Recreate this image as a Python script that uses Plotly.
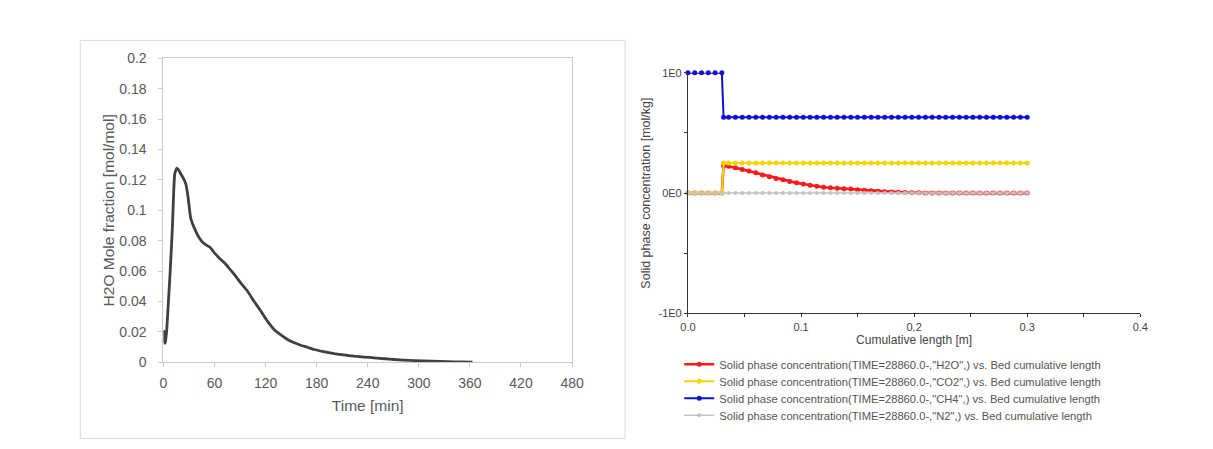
import plotly.graph_objects as go

# ---------------- Left chart data: H2O mole fraction vs time ----------------
time_min = [0.0, 0.8, 1.5, 2.2, 3.0, 4.0, 5.5, 7.8, 10.6, 11.8, 13.3, 15.7, 18.0, 20.4,
            23.5, 26.3, 29.0, 32.0, 36.0, 42.0, 47.0, 51.7, 55.0, 59.6, 65.0, 71.3, 77.0,
            83.0, 90.0, 98.7, 106.0, 114.4, 122.0, 130.0, 138.0, 145.8, 153.0, 161.4,
            170.0, 177.0, 188.0, 200.6, 212.0, 224.0, 236.0, 247.6, 260.0, 271.0, 283.0,
            294.7, 315.0, 333.9, 350.0, 363.0]
h2o_frac = [0.013, 0.0205, 0.0125, 0.013, 0.016, 0.022, 0.036, 0.058, 0.089, 0.108, 0.124,
            0.1278, 0.1265, 0.124, 0.121, 0.1174, 0.1086, 0.095, 0.0888, 0.082, 0.0785,
            0.0767, 0.0755, 0.0722, 0.0690, 0.0656, 0.0620, 0.058, 0.0528, 0.0469, 0.0405,
            0.0337, 0.0272, 0.0216, 0.0180, 0.0150, 0.0130, 0.0112, 0.0097, 0.0084, 0.0070,
            0.0057, 0.0048, 0.0040, 0.0034, 0.0029, 0.0023, 0.0018, 0.0014, 0.0011, 0.0007,
            0.0004, 0.0002, 0.0]
left_xticks = [0, 60, 120, 180, 240, 300, 360, 420, 480]
left_yticks = [0, 0.02, 0.04, 0.06, 0.08, 0.1, 0.12, 0.14, 0.16, 0.18, 0.2]
left_yticklabels = ["0", "0.02", "0.04", "0.06", "0.08", "0.1", "0.12", "0.14", "0.16", "0.18", "0.2"]

# ---------------- Right chart data: solid phase concentration vs bed length ----------------
bed_x = [0.000, 0.006, 0.012, 0.018, 0.024, 0.030, 0.0315, 0.036, 0.042, 0.048, 0.054,
         0.060, 0.066, 0.072, 0.078, 0.084, 0.090, 0.096, 0.102, 0.108, 0.114, 0.120,
         0.126, 0.132, 0.138, 0.144, 0.150, 0.156, 0.162, 0.168, 0.174, 0.180, 0.186,
         0.192, 0.198, 0.204, 0.210, 0.216, 0.222, 0.228, 0.234, 0.240, 0.246, 0.252,
         0.258, 0.264, 0.270, 0.276, 0.282, 0.288, 0.294, 0.300]
h2o_conc = [0.0, 0.0, 0.0, 0.0, 0.0, 0.0, 0.228, 0.222, 0.210, 0.197, 0.183,
            0.168, 0.150, 0.135, 0.122, 0.110, 0.097, 0.085, 0.075, 0.065, 0.056, 0.049,
            0.044, 0.040, 0.036, 0.033, 0.028, 0.023, 0.019, 0.016, 0.012, 0.009, 0.006,
            0.004, 0.003, 0.002, 0.001, 0.0, 0.0, 0.0, 0.0, 0.0, 0.0, 0.0,
            0.0, 0.0, 0.0, 0.0, 0.0, 0.0, 0.0, 0.0]
co2_conc = [0.0] * 6 + [0.25] * 46
ch4_conc = [1.0] * 6 + [0.63] * 46
n2_conc = [0.0] * 52
right_xticks = [0.0, 0.05, 0.1, 0.15, 0.2, 0.25, 0.3, 0.35, 0.4]
right_xticklabels = ["0.0", "", "0.1", "", "0.2", "", "0.3", "", "0.4"]
right_yticks = [-1, -0.5, 0, 0.5, 1]
right_yticklabels = ["-1E0", "", "0E0", "", "1E0"]
series_names = [
    'Solid phase concentration(TIME=28860.0-,"H2O",) vs. Bed cumulative length',
    'Solid phase concentration(TIME=28860.0-,"CO2",) vs. Bed cumulative length',
    'Solid phase concentration(TIME=28860.0-,"CH4",) vs. Bed cumulative length',
    'Solid phase concentration(TIME=28860.0-,"N2",) vs. Bed cumulative length',
]

# Placement: positions are given in picture pixels and converted to figure fractions,
# accounting for the 8px body margin and the observed capture scale.
BODY = 8
SX, SY = 0.982, 0.962
W, H = 1219, 451


def px_x(p):
    return (p / SX - BODY) / W


def px_y(p):
    return 1 - (p / SY - BODY) / H


fig = go.Figure()

fig.add_trace(go.Scatter(x=time_min, y=h2o_frac, mode="lines",
                         line=dict(color="#404040", width=2.8, shape="spline", smoothing=0.4),
                         xaxis="x", yaxis="y", showlegend=False))

colors = ["#ff1a1a", "#f2d600", "#1010d0", "#c4c4c4"]
lwidth = [2.6, 2.0, 2.0, 1.5]
msize = [5, 5, 5, 4]
legend_ids = ["legend", "legend2", "legend3", "legend4"]
legend_rows = [363, 380, 397, 414]
for name, vals, col, lw, ms, lid in zip(series_names, [h2o_conc, co2_conc, ch4_conc, n2_conc],
                                        colors, lwidth, msize, legend_ids):
    fig.add_trace(go.Scatter(x=bed_x, y=vals, mode="lines+markers", name=name,
                             line=dict(color=col, width=lw),
                             marker=dict(color=col, size=ms),
                             cliponaxis=False, legend=lid,
                             xaxis="x2", yaxis="y2"))

font_l = "Liberation Sans, Arial, sans-serif"
legend_font = dict(family=font_l, size=11.2, color="#555555")
legends = {}
for lid, row in zip(legend_ids, legend_rows):
    legends[lid] = dict(x=px_x(678), y=px_y(row), xanchor="left", yanchor="middle",
                        font=legend_font, bgcolor="rgba(0,0,0,0)", itemwidth=30,
                        tracegroupgap=0)

fig.update_layout(
    width=W, height=H,
    margin=dict(l=0, r=0, t=0, b=0),
    paper_bgcolor="white", plot_bgcolor="white",
    xaxis=dict(domain=[px_x(163), px_x(571)], range=[0, 480], tickvals=left_xticks,
               showgrid=False, zeroline=False, showline=True, mirror=True,
               linecolor="#c8c8c8", linewidth=1, ticks="outside", ticklen=4,
               tickcolor="#c8c8c8", ticklabelstandoff=4,
               tickfont=dict(family=font_l, size=14, color="#595959"),
               title=dict(text="Time [min]", font=dict(family=font_l, size=15.5, color="#595959"),
                          standoff=10),
               anchor="y", fixedrange=True),
    yaxis=dict(domain=[px_y(361), px_y(58)], range=[0, 0.2], tickvals=left_yticks,
               ticktext=left_yticklabels,
               showgrid=False, zeroline=False, showline=True, mirror=True,
               linecolor="#c8c8c8", linewidth=1, ticks="outside", ticklen=4,
               tickcolor="#c8c8c8", ticklabelstandoff=9,
               tickfont=dict(family=font_l, size=14, color="#595959"),
               title=dict(text="H2O Mole fraction [mol/mol]",
                          font=dict(family=font_l, size=15.5, color="#595959"), standoff=0),
               anchor="x", fixedrange=True),
    xaxis2=dict(domain=[px_x(686.7), px_x(1138.3)], range=[0, 0.4], tickvals=right_xticks,
                ticktext=right_xticklabels,
                showgrid=False, zeroline=False, showline=True, mirror=False,
                linecolor="#333333", linewidth=1, ticks="outside", ticklen=3,
                tickcolor="#333333", tickfont=dict(family=font_l, size=11, color="#444444"),
                title=dict(text="Cumulative length [m]",
                           font=dict(family=font_l, size=12, color="#444444"), standoff=1),
                anchor="y2", fixedrange=True),
    yaxis2=dict(domain=[px_y(312.3), px_y(72.3)], range=[-1, 1], tickvals=right_yticks,
                ticktext=right_yticklabels,
                showgrid=False, zeroline=False, showline=True, mirror=False,
                linecolor="#333333", linewidth=1, ticks="outside", ticklen=3,
                tickcolor="#333333", tickfont=dict(family=font_l, size=11, color="#444444"),
                title=dict(text="Solid phase concentration [mol/kg]",
                           font=dict(family=font_l, size=12.5, color="#444444"), standoff=5),
                anchor="x2", fixedrange=True),
    shapes=[dict(type="rect", xref="paper", yref="paper",
                 x0=px_x(80), x1=px_x(624), y0=px_y(437), y1=px_y(40),
                 line=dict(color="#d9d9d9", width=1), layer="below")],
    **legends,
)

fig.write_html("out.html")
